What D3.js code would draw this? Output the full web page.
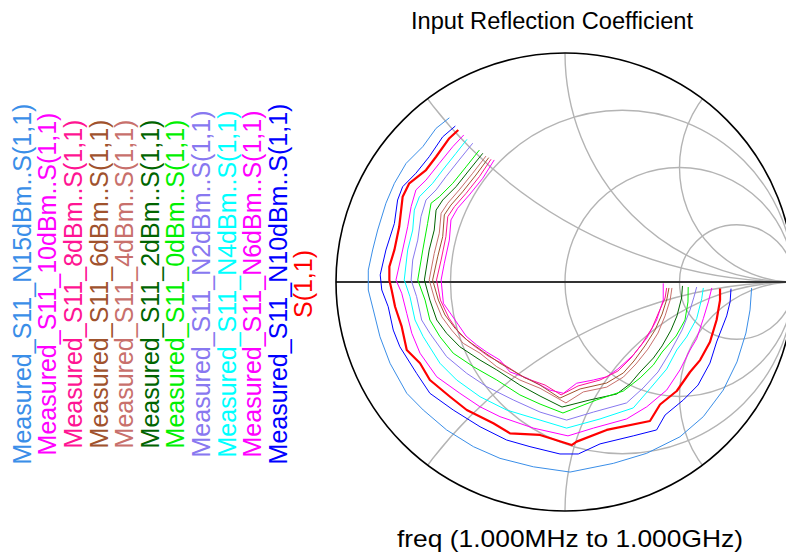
<!DOCTYPE html>
<html>
<head>
<meta charset="utf-8">
<script src="https://cdn.jsdelivr.net/npm/d3@7"></script>
<style>
  body { margin: 0; background: #fff; }
  svg { display: block; font-family: "Liberation Sans", Arial, sans-serif; }
</style>
</head>
<body>
<svg id="chart" width="786" height="557"></svg>
<script>
// S11 traces, [re, im] of the reflection coefficient
var m_N15 = [[-0.505,0.717],[-0.563,0.671],[-0.621,0.591],[-0.694,0.518],[-0.745,0.431],[-0.782,0.344],[-0.818,0.227],[-0.840,0.140],[-0.859,0.052],[-0.859,-0.035],[-0.837,-0.122],[-0.808,-0.239],[-0.764,-0.355],[-0.691,-0.486],[-0.619,-0.559],[-0.517,-0.646],[-0.400,-0.719],[-0.284,-0.770],[-0.138,-0.807],[0.022,-0.830],[0.211,-0.792],[0.357,-0.748],[0.502,-0.676],[0.604,-0.588],[0.691,-0.472],[0.751,-0.349],[0.790,-0.223],[0.808,-0.122],[0.815,-0.026]];
var m_10 = [[-0.309,0.533],[-0.359,0.453],[-0.418,0.380],[-0.469,0.322],[-0.498,0.271],[-0.505,0.183],[-0.527,0.082],[-0.541,0.009],[-0.531,-0.093],[-0.480,-0.166],[-0.432,-0.236],[-0.386,-0.275],[-0.342,-0.306],[-0.284,-0.341],[-0.240,-0.393],[-0.167,-0.419],[-0.066,-0.472],[-0.007,-0.486],[0.051,-0.442],[0.124,-0.428],[0.182,-0.414],[0.231,-0.380],[0.298,-0.319],[0.357,-0.245],[0.400,-0.166],[0.429,-0.079],[0.429,-0.006]];
var m_8 = [[-0.323,0.536],[-0.374,0.460],[-0.432,0.387],[-0.483,0.329],[-0.512,0.285],[-0.520,0.198],[-0.541,0.096],[-0.561,0.009],[-0.544,-0.079],[-0.507,-0.157],[-0.459,-0.227],[-0.397,-0.279],[-0.336,-0.323],[-0.271,-0.358],[-0.175,-0.419],[-0.087,-0.450],[-0.017,-0.493],[0.057,-0.454],[0.153,-0.428],[0.231,-0.389],[0.288,-0.332],[0.336,-0.271],[0.380,-0.201],[0.410,-0.131],[0.437,-0.070],[0.444,-0.026]];
var m_6 = [[-0.333,0.543],[-0.389,0.467],[-0.447,0.394],[-0.498,0.336],[-0.527,0.293],[-0.534,0.198],[-0.556,0.110],[-0.578,0.009],[-0.553,-0.079],[-0.524,-0.144],[-0.480,-0.202],[-0.429,-0.253],[-0.357,-0.304],[-0.284,-0.355],[-0.182,-0.414],[-0.109,-0.450],[-0.022,-0.507],[0.066,-0.467],[0.182,-0.441],[0.255,-0.397],[0.301,-0.345],[0.349,-0.279],[0.393,-0.210],[0.424,-0.140],[0.445,-0.074],[0.454,-0.026]];
var m_4 = [[-0.345,0.550],[-0.403,0.475],[-0.462,0.402],[-0.512,0.344],[-0.541,0.300],[-0.549,0.213],[-0.571,0.125],[-0.593,0.009],[-0.568,-0.079],[-0.538,-0.152],[-0.495,-0.210],[-0.444,-0.268],[-0.371,-0.311],[-0.298,-0.370],[-0.197,-0.428],[-0.109,-0.464],[0.004,-0.528],[0.080,-0.480],[0.182,-0.459],[0.255,-0.415],[0.310,-0.358],[0.362,-0.293],[0.406,-0.223],[0.437,-0.148],[0.459,-0.079],[0.467,-0.026]];
var m_2 = [[-0.359,0.562],[-0.418,0.489],[-0.476,0.416],[-0.534,0.358],[-0.563,0.314],[-0.571,0.227],[-0.593,0.140],[-0.614,0.009],[-0.590,-0.079],[-0.560,-0.166],[-0.517,-0.224],[-0.459,-0.283],[-0.371,-0.341],[-0.298,-0.384],[-0.197,-0.450],[-0.109,-0.498],[-0.013,-0.546],[0.109,-0.515],[0.226,-0.489],[0.284,-0.445],[0.328,-0.393],[0.386,-0.332],[0.424,-0.279],[0.463,-0.210],[0.489,-0.148],[0.509,-0.070],[0.513,-0.017]];
var m_0 = [[-0.374,0.576],[-0.432,0.503],[-0.490,0.431],[-0.549,0.372],[-0.585,0.344],[-0.600,0.256],[-0.621,0.140],[-0.643,0.009],[-0.611,-0.079],[-0.590,-0.166],[-0.546,-0.239],[-0.488,-0.311],[-0.400,-0.370],[-0.298,-0.428],[-0.197,-0.493],[-0.109,-0.533],[-0.009,-0.572],[0.138,-0.515],[0.255,-0.476],[0.328,-0.419],[0.386,-0.362],[0.424,-0.306],[0.485,-0.236],[0.524,-0.166],[0.537,-0.087],[0.538,-0.022]];
var m_N2 = [[-0.403,0.606],[-0.462,0.533],[-0.520,0.460],[-0.563,0.402],[-0.607,0.358],[-0.629,0.285],[-0.643,0.183],[-0.665,0.096],[-0.672,0.009],[-0.648,-0.064],[-0.626,-0.166],[-0.590,-0.224],[-0.517,-0.326],[-0.429,-0.399],[-0.342,-0.457],[-0.226,-0.515],[-0.109,-0.568],[0.007,-0.603],[0.124,-0.568],[0.269,-0.528],[0.341,-0.463],[0.406,-0.393],[0.459,-0.306],[0.511,-0.210],[0.546,-0.122],[0.563,-0.066],[0.575,-0.022]];
var m_N4 = [[-0.428,0.623],[-0.476,0.562],[-0.534,0.489],[-0.578,0.431],[-0.636,0.372],[-0.658,0.314],[-0.665,0.227],[-0.687,0.140],[-0.702,0.009],[-0.677,-0.064],[-0.655,-0.166],[-0.619,-0.239],[-0.546,-0.355],[-0.473,-0.428],[-0.371,-0.501],[-0.255,-0.559],[-0.109,-0.603],[0.007,-0.638],[0.153,-0.598],[0.298,-0.550],[0.371,-0.466],[0.444,-0.380],[0.488,-0.297],[0.531,-0.240],[0.575,-0.160],[0.597,-0.073],[0.604,-0.026]];
var m_N6 = [[-0.442,0.642],[-0.490,0.591],[-0.549,0.518],[-0.607,0.445],[-0.651,0.402],[-0.672,0.329],[-0.687,0.241],[-0.709,0.140],[-0.738,0.009],[-0.713,-0.049],[-0.691,-0.137],[-0.669,-0.224],[-0.633,-0.311],[-0.560,-0.414],[-0.459,-0.486],[-0.371,-0.545],[-0.284,-0.588],[-0.138,-0.638],[0.013,-0.672],[0.124,-0.638],[0.269,-0.598],[0.357,-0.545],[0.444,-0.472],[0.502,-0.384],[0.546,-0.297],[0.575,-0.248],[0.604,-0.160],[0.626,-0.087],[0.641,-0.026]];
var m_N10 = [[-0.479,0.681],[-0.534,0.634],[-0.593,0.547],[-0.651,0.475],[-0.709,0.416],[-0.731,0.358],[-0.745,0.256],[-0.782,0.140],[-0.807,0.031],[-0.800,-0.035],[-0.772,-0.108],[-0.750,-0.210],[-0.721,-0.283],[-0.648,-0.399],[-0.590,-0.486],[-0.488,-0.559],[-0.371,-0.632],[-0.255,-0.690],[-0.153,-0.719],[-0.022,-0.751],[0.058,-0.751],[0.153,-0.707],[0.298,-0.672],[0.400,-0.646],[0.437,-0.581],[0.517,-0.515],[0.581,-0.450],[0.633,-0.354],[0.662,-0.262],[0.706,-0.148],[0.721,-0.087],[0.725,-0.029]];
var s11 = [[-0.466,0.664],[-0.505,0.628],[-0.563,0.547],[-0.607,0.489],[-0.680,0.431],[-0.709,0.372],[-0.724,0.241],[-0.745,0.140],[-0.767,0.067],[-0.767,0.009],[-0.757,-0.035],[-0.742,-0.108],[-0.713,-0.195],[-0.691,-0.297],[-0.633,-0.355],[-0.590,-0.428],[-0.502,-0.501],[-0.429,-0.559],[-0.313,-0.617],[-0.240,-0.661],[-0.109,-0.668],[0.029,-0.712],[0.051,-0.697],[0.182,-0.646],[0.371,-0.607],[0.415,-0.535],[0.488,-0.476],[0.546,-0.393],[0.590,-0.341],[0.633,-0.262],[0.662,-0.166],[0.677,-0.079],[0.677,-0.028]];

var labels = ['Measured_S11_N15dBm..S(1,1)', 'Measured_S11_10dBm..S(1,1)', 'Measured_S11_8dBm..S(1,1)',
    'Measured_S11_6dBm..S(1,1)', 'Measured_S11_4dBm..S(1,1)', 'Measured_S11_2dBm..S(1,1)',
    'Measured_S11_0dBm..S(1,1)', 'Measured_S11_N2dBm..S(1,1)', 'Measured_S11_N4dBm..S(1,1)',
    'Measured_S11_N6dBm..S(1,1)', 'Measured_S11_N10dBm..S(1,1)', 'S(1,1)'];
var traces = [m_N15, m_10, m_8, m_6, m_4, m_2, m_0, m_N2, m_N4, m_N6, m_N10, s11];
var colors = ['#3a8ee8', '#ff00ff', '#ff1493', '#a0522d', '#c8706c', '#006400',
    '#00f000', '#8878f0', '#00ffff', '#ff00ff', '#0000ff', '#ff0000'];

// smith chart grid: constant resistance circles and constant reactance arcs
var resistances = [1 / 3, 1, 3];
var reactances = [0.5, 1, 2, -0.5, -1, -2];

var svg = d3.select('#chart'),
    cx = 565, cy = 282, R = 229;

var x = d3.scaleLinear().domain([-1, 1]).range([cx - R, cx + R]),
    y = d3.scaleLinear().domain([-1, 1]).range([cy + R, cy - R]),
    unit = x(1) - x(0);

svg.append('clipPath').attr('id', 'unit')
    .append('circle').attr('cx', x(0)).attr('cy', y(0)).attr('r', unit);

var grid = svg.append('g')
    .attr('clip-path', 'url(#unit)')
    .attr('fill', 'none')
    .attr('stroke', '#b4b4b4')
    .attr('stroke-width', 1.4);

resistances.forEach(function (r) {
    grid.append('circle')
        .attr('cx', x(r / (1 + r))).attr('cy', y(0))
        .attr('r', unit / (1 + r));
});

reactances.forEach(function (v) {
    grid.append('circle')
        .attr('cx', x(1)).attr('cy', y(1 / v))
        .attr('r', unit / Math.abs(v));
});

svg.append('line')
    .attr('x1', x(-1)).attr('x2', x(1))
    .attr('y1', y(0)).attr('y2', y(0))
    .attr('stroke', '#333').attr('stroke-width', 2);

svg.append('circle')
    .attr('cx', x(0)).attr('cy', y(0)).attr('r', unit)
    .attr('fill', 'none').attr('stroke', '#000').attr('stroke-width', 1.6);

var line = d3.line()
    .x(function (d) { return x(d[0]); })
    .y(function (d) { return y(d[1]); });

svg.append('g').selectAll('path')
    .data(traces)
    .join('path')
    .attr('d', line)
    .attr('fill', 'none')
    .attr('stroke', function (d, i) { return colors[i]; })
    .attr('stroke-width', function (d, i) { return i === traces.length - 1 ? 2.2 : 1; })
    .attr('stroke-linejoin', 'round');

// legend, rotated column per trace
svg.append('g').selectAll('text')
    .data(labels)
    .join('text')
    .attr('transform', function (d, i) { return 'translate(' + (30.7 + i * 25.6) + ',284) rotate(-90)'; })
    .attr('text-anchor', 'middle')
    .attr('font-size', 25)
    .attr('fill', function (d, i) { return colors[i]; })
    .text(function (d) { return d; });

svg.append('text')
    .attr('x', 552).attr('y', 28.5)
    .attr('text-anchor', 'middle')
    .attr('font-size', 23)
    .attr('textLength', 282)
    .attr('lengthAdjust', 'spacingAndGlyphs')
    .text('Input Reflection Coefficient');

svg.append('text')
    .attr('x', 570).attr('y', 547)
    .attr('text-anchor', 'middle')
    .attr('font-size', 24)
    .attr('textLength', 346)
    .attr('lengthAdjust', 'spacingAndGlyphs')
    .text('freq (1.000MHz to 1.000GHz)');
</script>
</body>
</html>
